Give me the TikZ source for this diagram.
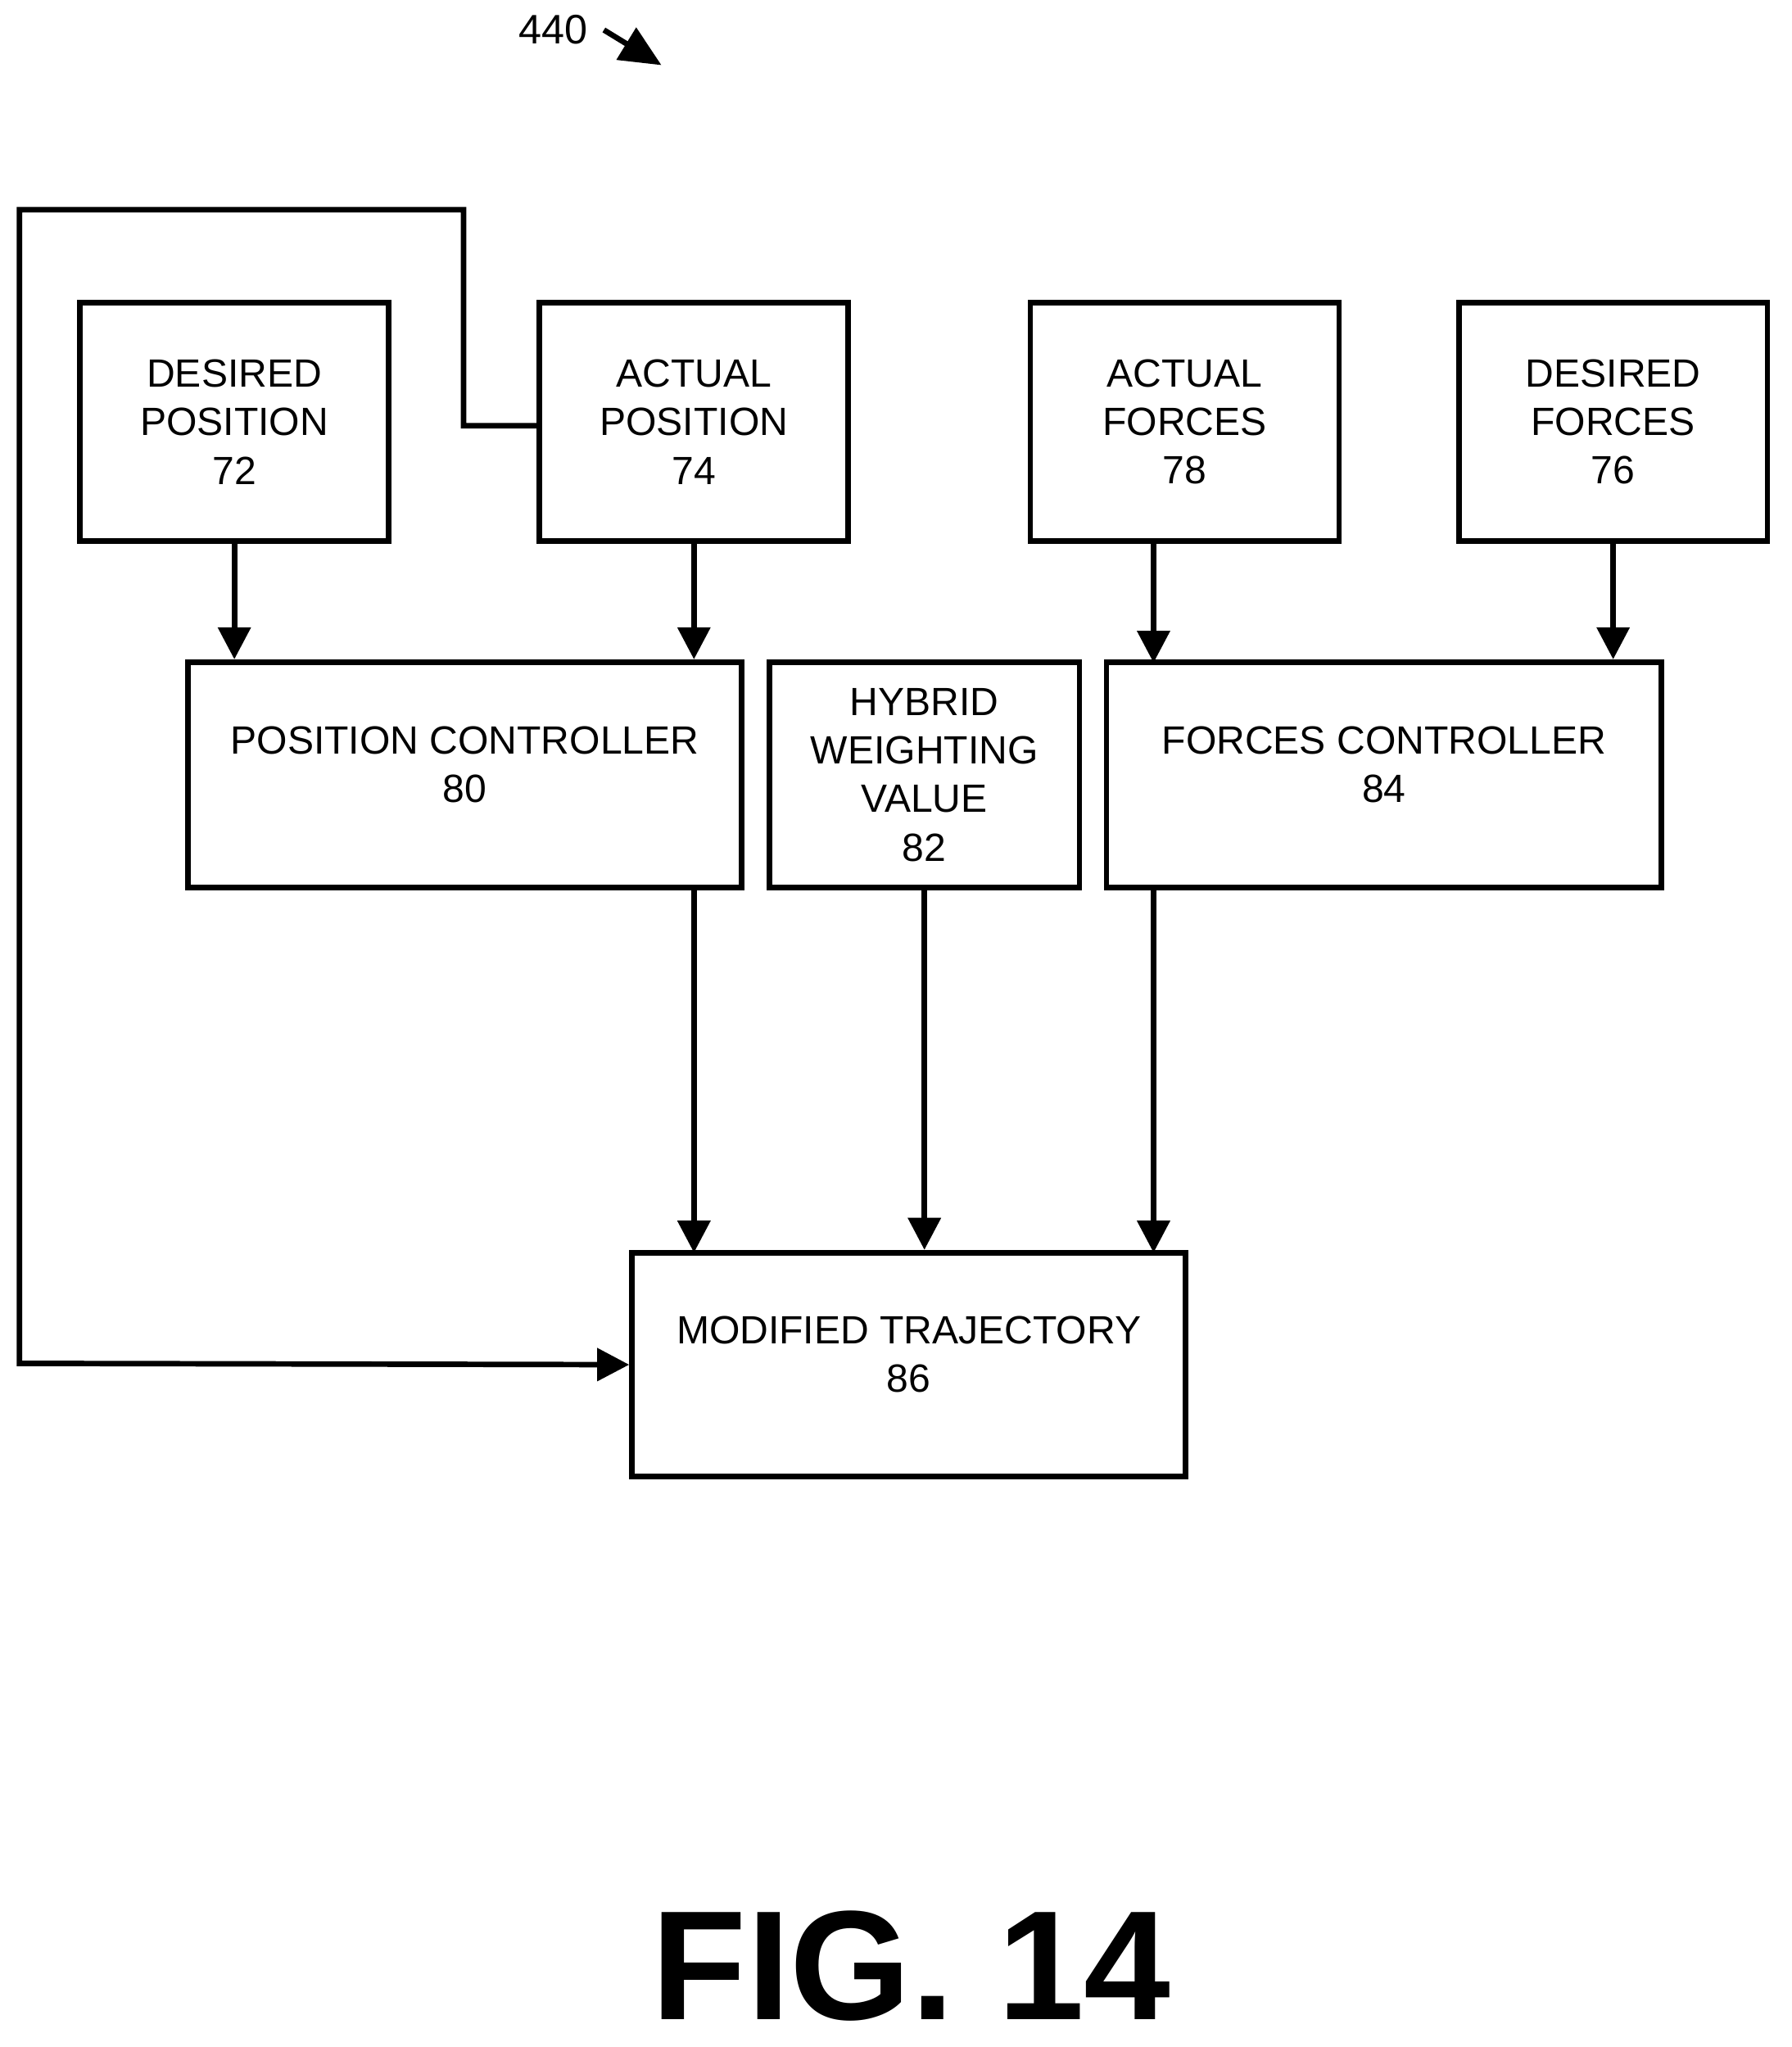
\documentclass[tikz,border=0pt]{standalone}
\usepackage{fontspec}
\setmainfont{Liberation Sans}
\usetikzlibrary{arrows.meta}
\begin{document}
\begin{tikzpicture}[x=0.01cm,y=-0.01cm,
    blk/.style={draw, line width=1.2pt, align=center, inner sep=0pt,
      font=\fontsize{8.6}{10.6}\selectfont},
    arr/.style={line width=1.2pt, -{Triangle[length=7pt,width=7pt]}}]
  \useasboundingbox (0,0) rectangle (1376,1572);

  \node[blk, minimum width=237\pgflinewidth, minimum width=2.37cm, minimum height=1.83cm] (dpos) at (180,324) {DESIRED\\POSITION\\72};
  \node[blk, minimum width=2.37cm, minimum height=1.83cm] (apos) at (533,324) {ACTUAL\\POSITION\\74};
  \node[blk, minimum width=2.37cm, minimum height=1.83cm] (afor) at (910,324) {ACTUAL\\FORCES\\78};
  \node[blk, minimum width=2.37cm, minimum height=1.83cm] (dfor) at (1239,324) {DESIRED\\FORCES\\76};

  \node[blk, minimum width=4.25cm, minimum height=1.73cm] (pctl) at (357,595) {POSITION CONTROLLER\\80\\[-6pt]};
  \node[blk, minimum width=2.38cm, minimum height=1.73cm] (hyb) at (710,595) {HYBRID\\WEIGHTING\\VALUE\\82};
  \node[blk, minimum width=4.26cm, minimum height=1.73cm] (fctl) at (1063,595) {FORCES CONTROLLER\\84\\[-6pt]};

  \node[blk, minimum width=4.25cm, minimum height=1.72cm] (mtraj) at (698,1048) {MODIFIED TRAJECTORY\\86\\[-6pt]};

  % inputs
  \draw[arr] (dpos.south) -- (dpos.south |- pctl.north);
  \draw[arr] (apos.south) -- (apos.south |- pctl.north);
  \draw[arr] (886,416) -- (886,509);
  \draw[arr] (dfor.south) -- (dfor.south |- fctl.north);

  % outputs
  \draw[arr] (533,682) -- (533,962);
  \draw[arr] (hyb.south) -- (hyb.south |- mtraj.north);
  \draw[arr] (886,682) -- (886,962);

  % feedback
  \draw[arr] (apos.west |- 0,327) -- (356,327) -- (356,161) -- (15,161) -- (15,1047) -- (mtraj.west);

  \node[font=\fontsize{9}{11}\selectfont] (ref) at (425,23) {440};
  \draw[line width=1.2pt, -{Triangle[length=9pt,width=8pt]}] (ref.east) -- (508,50);

  \node[font=\fontsize{34}{40}\selectfont\bfseries] (fig) at (700,1510) {FIG. 14};
\end{tikzpicture}
\end{document}
